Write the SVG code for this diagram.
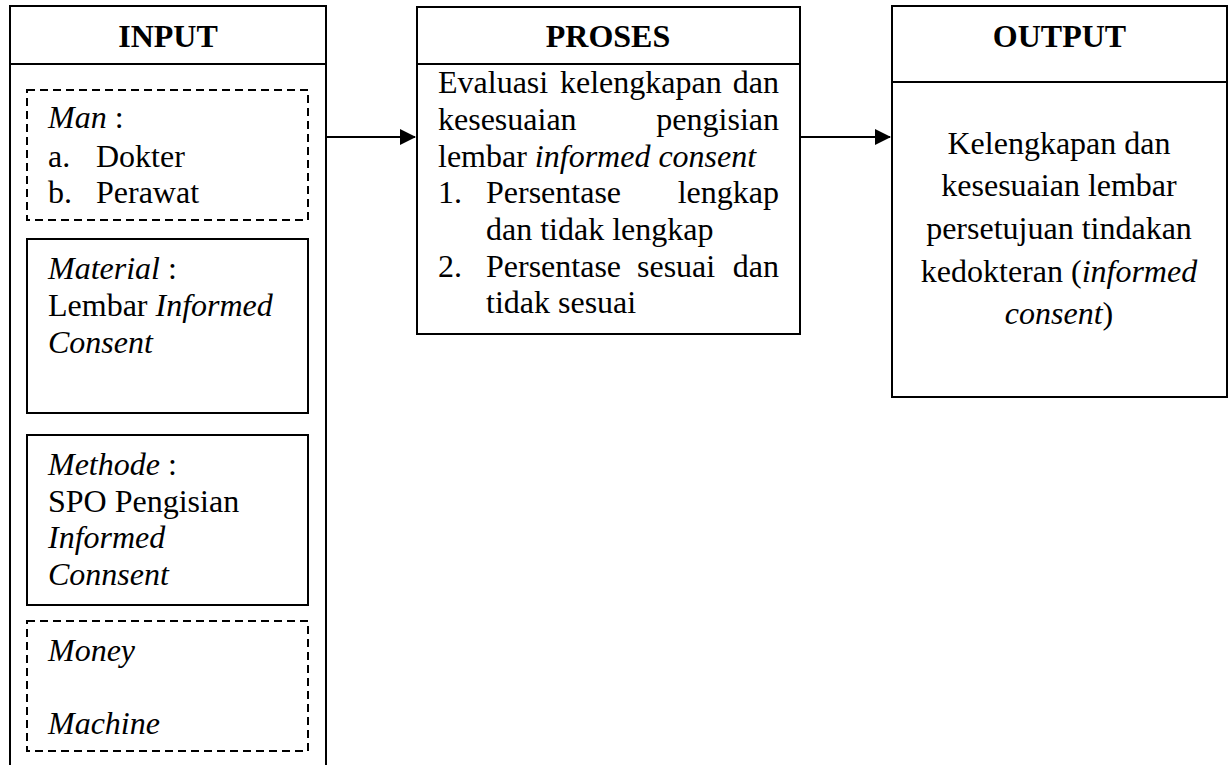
<svg xmlns="http://www.w3.org/2000/svg" width="1231" height="765" viewBox="0 0 1231 765">
<style>
text{font-family:"Liberation Serif","Times New Roman",serif;font-size:32px;fill:#000}
.h{font-weight:bold;text-anchor:middle}
.c{text-anchor:middle}
.e{text-anchor:end}
.i{font-style:italic}
.box{fill:#fff;stroke:#000;stroke-width:2}
.dash{fill:none;stroke:#000;stroke-width:2;stroke-dasharray:8 5}
.ln{stroke:#000;stroke-width:2;fill:none}
</style>
<defs>
<marker id="ah" markerWidth="16" markerHeight="16" refX="15" refY="8" orient="auto" markerUnits="userSpaceOnUse" viewBox="0 0 16 16">
<path d="M0,0 L16,8 L0,16 z" fill="#000"/>
</marker>
</defs>
<rect width="1231" height="765" fill="#fff"/>
<g id="input">
<rect class="box" x="10" y="6" width="316" height="770"/>
<line class="ln" x1="10" y1="64" x2="326" y2="64"/>
<text class="h" x="168" y="47">INPUT</text>
<g id="man">
<rect class="dash" x="27" y="90" width="281" height="130"/>
<text x="48" y="128"><tspan class="i">Man</tspan> :</text>
<text x="48" y="167">a.</text><text x="96" y="167">Dokter</text>
<text x="48" y="203">b.</text><text x="96" y="203">Perawat</text>
</g>
<g id="material">
<rect class="box" x="27" y="239" width="281" height="174"/>
<text x="48" y="279"><tspan class="i">Material</tspan> :</text>
<text x="48" y="316">Lembar <tspan class="i">Informed</tspan></text>
<text x="48" y="353" class="i">Consent</text>
</g>
<g id="methode">
<rect class="box" x="27" y="435" width="281" height="170"/>
<text x="48" y="475"><tspan class="i">Methode</tspan> :</text>
<text x="48" y="512">SPO Pengisian</text>
<text x="48" y="548" class="i">Informed</text>
<text x="48" y="585" class="i">Connsent</text>
</g>
<g id="money-machine">
<rect class="dash" x="27" y="621" width="281" height="130"/>
<text x="48" y="661" class="i">Money</text>
<text x="48" y="734" class="i">Machine</text>
</g>
</g>
<g id="proses">
<rect class="box" x="417" y="7" width="383" height="327"/>
<line class="ln" x1="417" y1="64" x2="800" y2="64"/>
<text class="h" x="608" y="47">PROSES</text>
<text x="438" y="93">Evaluasi</text><text x="560" y="93">kelengkapan</text><text class="e" x="779" y="93">dan</text>
<text x="438" y="130">kesesuaian</text><text class="e" x="779" y="130">pengisian</text>
<text x="438" y="167">lembar <tspan class="i">informed consent</tspan></text>
<text x="438" y="203">1.</text><text x="486" y="203">Persentase</text><text class="e" x="779" y="203">lengkap</text>
<text x="486" y="240">dan tidak lengkap</text>
<text x="438" y="277">2.</text><text x="486" y="277">Persentase</text><text x="637" y="277">sesuai</text><text class="e" x="779" y="277">dan</text>
<text x="486" y="313">tidak sesuai</text>
</g>
<g id="output">
<rect class="box" x="892" y="6" width="335" height="391"/>
<line class="ln" x1="892" y1="82" x2="1227" y2="82"/>
<text class="h" x="1059.5" y="47">OUTPUT</text>
<text class="c" x="1059" y="154">Kelengkapan dan</text>
<text class="c" x="1059" y="196">kesesuaian lembar</text>
<text class="c" x="1059" y="239">persetujuan tindakan</text>
<text class="c" x="1059" y="282">kedokteran (<tspan class="i">informed</tspan></text>
<text class="c" x="1059" y="324"><tspan class="i">consent</tspan>)</text>
</g>
<g id="connectors">
<line class="ln" x1="326" y1="137" x2="415" y2="137" marker-end="url(#ah)"/>
<line class="ln" x1="800" y1="137" x2="890" y2="137" marker-end="url(#ah)"/>
</g>
</svg>
